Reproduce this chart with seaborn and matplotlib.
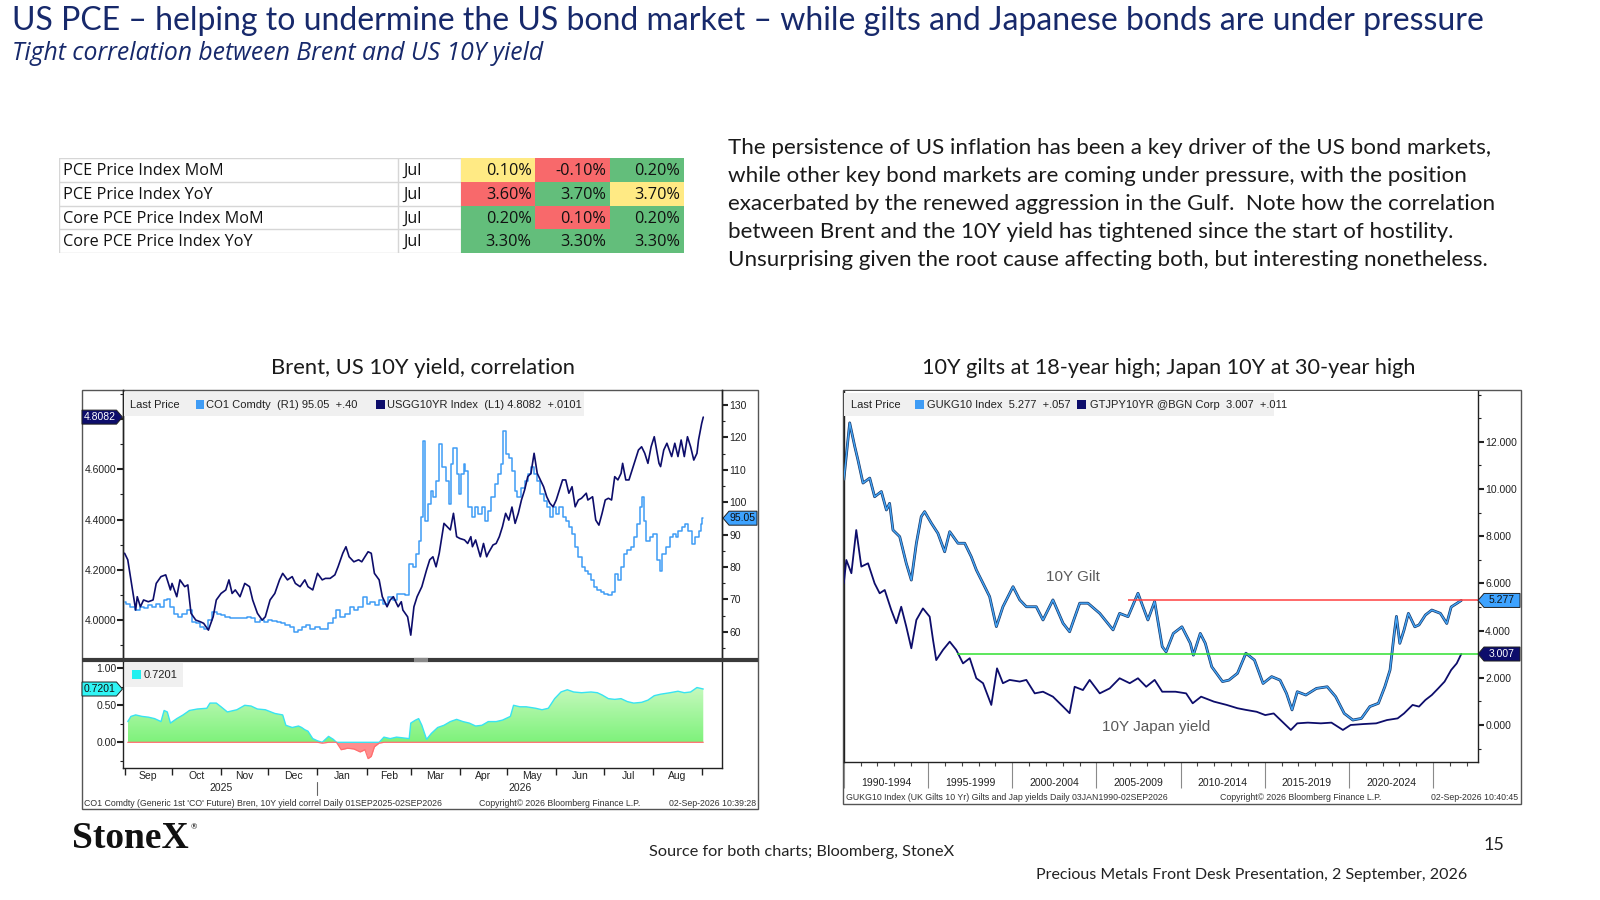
import numpy as np
import matplotlib
matplotlib.use("Agg")
import matplotlib.pyplot as plt
import seaborn as sns
from matplotlib.colors import ListedColormap, LinearSegmentedColormap
from matplotlib.patches import Rectangle, Polygon
from matplotlib.lines import Line2D
import matplotlib.ticker as mticker

# ---------------------------------------------------------------- data
table_rows = ["PCE Price Index MoM", "PCE Price Index YoY",
              "Core PCE Price Index MoM", "Core PCE Price Index YoY"]
table_period = ["Jul", "Jul", "Jul", "Jul"]
table_values = [["0.10%", "-0.10%", "0.20%"],
                ["3.60%", "3.70%", "3.70%"],
                ["0.20%", "0.10%", "0.20%"],
                ["3.30%", "3.30%", "3.30%"]]
table_colour_codes = [[0, 1, 2], [1, 2, 0], [2, 1, 2], [2, 2, 2]]  # 0 yellow, 1 red, 2 green

# days since 01-Sep-2025
us10y_day = [0, 2, 4, 7, 8, 10, 12, 15, 18, 20,
             23, 26, 29, 30, 33, 35, 38, 40, 42, 45,
             48, 50, 53, 56, 58, 61, 64, 66, 68, 70,
             73, 76, 79, 81, 84, 87, 89, 92, 95, 98,
             100, 103, 106, 108, 111, 114, 116, 119, 122, 125,
             127, 130, 133, 135, 138, 140, 142, 145, 148, 150,
             152, 154, 156, 158, 161, 163, 166, 168, 170, 173,
             175, 176, 179, 181, 183, 185, 188, 191, 193, 195,
             197, 199, 201, 202, 204, 206, 208, 210, 212, 215,
             217, 219, 220, 222, 225, 227, 229, 230, 233, 235,
             237, 239, 241, 243, 245, 247, 249, 251, 253, 255,
             257, 259, 261, 263, 265, 267, 269, 271, 273, 275,
             277, 279, 281, 283, 285, 287, 289, 292, 293, 296,
             298, 300, 302, 304, 306, 308, 310, 312, 314, 315,
             317, 319, 321, 323, 325, 327, 329, 331, 333, 335,
             338, 339, 341, 343, 346, 348, 350, 352, 354, 356,
             358, 360, 362, 363, 365, 366]
us10y_yield = [4.266, 4.240, 4.160, 4.040, 4.093, 4.053, 4.080, 4.073, 4.080, 4.146,
               4.173, 4.180, 4.120, 4.146, 4.093, 4.160, 4.133, 4.140, 4.027, 4.000,
               3.993, 3.987, 3.960, 4.013, 4.080, 4.106, 4.120, 4.160, 4.106, 4.120,
               4.093, 4.146, 4.133, 4.080, 4.027, 4.000, 4.013, 4.080, 4.106, 4.160,
               4.186, 4.160, 4.173, 4.146, 4.133, 4.160, 4.133, 4.120, 4.186, 4.160,
               4.166, 4.166, 4.180, 4.212, 4.266, 4.292, 4.252, 4.232, 4.240, 4.232,
               4.252, 4.272, 4.266, 4.186, 4.160, 4.093, 4.053, 4.080, 4.093, 4.053,
               4.073, 4.040, 4.013, 3.940, 4.053, 4.093, 4.133, 4.200, 4.240, 4.252,
               4.212, 4.266, 4.345, 4.385, 4.372, 4.359, 4.425, 4.332, 4.325, 4.319,
               4.305, 4.332, 4.292, 4.319, 4.252, 4.305, 4.252, 4.266, 4.299, 4.305,
               4.332, 4.372, 4.425, 4.398, 4.450, 4.385, 4.425, 4.478, 4.518, 4.571,
               4.584, 4.664, 4.584, 4.558, 4.531, 4.491, 4.465, 4.451, 4.478, 4.518,
               4.558, 4.558, 4.505, 4.531, 4.451, 4.478, 4.485, 4.505, 4.478, 4.491,
               4.398, 4.378, 4.425, 4.478, 4.485, 4.478, 4.571, 4.558, 4.584, 4.624,
               4.558, 4.558, 4.598, 4.637, 4.677, 4.690, 4.664, 4.624, 4.690, 4.730,
               4.624, 4.611, 4.677, 4.704, 4.651, 4.704, 4.651, 4.717, 4.651, 4.730,
               4.690, 4.637, 4.664, 4.717, 4.783, 4.808]

brent_day = [0, 2, 5, 8, 11, 13, 16, 19, 21, 24,
             26, 28, 30, 33, 35, 38, 41, 44, 46, 49,
             52, 54, 57, 60, 62, 65, 68, 71, 73, 76,
             79, 81, 84, 87, 89, 92, 95, 98, 100, 103,
             106, 108, 111, 114, 116, 119, 122, 125, 127, 130,
             133, 135, 138, 141, 144, 146, 149, 152, 154, 157,
             160, 162, 165, 168, 171, 173, 176, 179, 181, 184,
             185, 187, 188, 189, 191, 193, 194, 196, 198, 200,
             202, 204, 206, 207, 209, 211, 212, 214, 215, 216,
             219, 221, 222, 225, 227, 229, 231, 233, 235, 237,
             239, 240, 242, 244, 246, 248, 249, 252, 254, 256,
             258, 260, 262, 264, 266, 268, 270, 272, 274, 276,
             278, 280, 282, 284, 286, 288, 290, 292, 294, 296,
             298, 300, 302, 305, 307, 309, 311, 313, 315, 317,
             319, 321, 323, 325, 327, 328, 329, 331, 333, 335,
             338, 339, 341, 344, 346, 348, 349, 351, 354, 355,
             358, 360, 362, 364, 365, 366]
brent_price = [69.2, 68.7, 67.7, 66.7, 67.7, 67.2, 68.2, 67.7, 68.7, 67.7,
               69.7, 70.2, 67.7, 65.6, 64.6, 65.6, 66.7, 63.1, 62.6, 61.5,
               61.0, 63.6, 66.1, 65.6, 65.1, 64.6, 64.1, 64.4, 64.1, 64.1,
               64.6, 64.4, 63.1, 63.6, 63.1, 63.6, 63.4, 63.1, 62.6, 62.0,
               61.5, 60.0, 60.5, 61.5, 62.0, 61.0, 61.5, 61.0, 61.0, 62.6,
               64.1, 66.7, 64.6, 65.6, 67.7, 66.7, 67.7, 70.7, 68.7, 69.2,
               68.2, 69.7, 68.7, 70.7, 69.7, 71.8, 71.8, 71.3, 81.0, 80.0,
               84.1, 88.1, 95.3, 118.9, 94.3, 99.4, 103.5, 101.5, 106.6, 117.8,
               110.7, 106.6, 99.4, 111.7, 116.8, 108.6, 102.5, 108.6, 111.7, 109.6,
               98.4, 95.3, 98.4, 96.3, 98.4, 94.3, 97.4, 101.5, 105.5, 108.6,
               111.7, 121.9, 114.8, 113.7, 109.6, 103.5, 101.5, 104.5, 106.6, 108.6,
               110.7, 108.6, 106.6, 102.5, 100.4, 98.4, 95.3, 98.4, 96.3, 98.4,
               95.3, 94.3, 92.2, 90.2, 86.1, 83.0, 80.0, 78.9, 77.9, 75.9,
               73.8, 72.8, 72.3, 71.8, 71.3, 72.3, 77.9, 75.9, 80.0, 84.1,
               85.1, 86.1, 89.2, 93.3, 98.4, 101.5, 94.3, 88.1, 89.2, 90.2,
               82.0, 78.9, 84.1, 86.1, 89.2, 90.2, 89.2, 91.2, 92.2, 93.3,
               91.2, 87.1, 89.2, 91.2, 93.3, 95.05]

corr_day = [2, 4, 7, 11, 15, 19, 23, 25, 27, 29,
            33, 37, 41, 46, 52, 54, 58, 61, 65, 71,
            76, 80, 84, 89, 95, 100, 102, 106, 110, 112,
            114, 116, 119, 122, 125, 129, 132, 134, 137, 141,
            145, 149, 152, 154, 156, 158, 161, 164, 168, 172,
            176, 180, 181, 184, 186, 188, 191, 194, 198, 202,
            206, 210, 214, 218, 222, 226, 230, 235, 239, 244,
            246, 250, 254, 260, 264, 268, 272, 276, 280, 284,
            289, 295, 299, 302, 306, 310, 314, 318, 322, 327,
            331, 335, 339, 345, 350, 354, 358, 362, 366]
corr_value = [0.28, 0.35, 0.37, 0.35, 0.34, 0.32, 0.28, 0.43, 0.41, 0.26,
              0.32, 0.37, 0.43, 0.45, 0.46, 0.53, 0.53, 0.48, 0.41, 0.44,
              0.50, 0.49, 0.45, 0.44, 0.39, 0.37, 0.23, 0.20, 0.22, 0.20,
              0.17, 0.15, 0.05, 0.02, -0.01, 0.08, 0.04, 0.00, -0.10, -0.08,
              -0.09, -0.13, -0.10, -0.22, -0.19, -0.06, -0.01, 0.07, 0.05, 0.07,
              0.06, 0.05, 0.26, 0.30, 0.32, 0.23, 0.04, 0.12, 0.20, 0.23,
              0.28, 0.31, 0.28, 0.26, 0.22, 0.23, 0.28, 0.28, 0.30, 0.35,
              0.50, 0.48, 0.48, 0.46, 0.44, 0.46, 0.59, 0.68, 0.71, 0.68,
              0.67, 0.68, 0.67, 0.64, 0.59, 0.58, 0.59, 0.55, 0.53, 0.54,
              0.57, 0.63, 0.65, 0.67, 0.69, 0.67, 0.68, 0.74, 0.7201]

month_labels = ["Sep", "Oct", "Nov", "Dec", "Jan", "Feb", "Mar", "Apr",
                "May", "Jun", "Jul", "Aug"]
month_starts = [0, 30, 61, 91, 122, 153, 181, 212, 242, 273, 303, 334, 365]
year_labels = ["2025", "2026"]

gilt_year = [1990.00, 1990.35, 1990.65, 1990.84, 1991.14, 1991.54, 1991.83, 1992.23, 1992.53, 1992.72,
             1992.92, 1993.32, 1993.71, 1994.01, 1994.31, 1994.60, 1994.80, 1995.20, 1995.59, 1995.99,
             1996.29, 1996.78, 1997.18, 1997.57, 1997.87, 1998.27, 1998.66, 1999.06, 1999.45, 2000.05,
             2000.45, 2000.84, 2001.43, 2001.83, 2002.42, 2003.02, 2003.41, 2004.01, 2004.50, 2005.20,
             2005.99, 2006.38, 2006.88, 2007.47, 2008.06, 2008.46, 2008.91, 2009.14, 2009.57, 2010.08,
             2010.58, 2010.76, 2011.17, 2011.47, 2011.85, 2012.49, 2012.87, 2013.38, 2013.88, 2014.39,
             2014.90, 2015.41, 2015.91, 2016.29, 2016.62, 2016.93, 2017.44, 2018.07, 2018.71, 2019.21,
             2019.72, 2020.23, 2020.74, 2021.24, 2021.75, 2022.13, 2022.44, 2022.69, 2022.82, 2023.02,
             2023.27, 2023.53, 2023.91, 2024.16, 2024.54, 2024.92, 2025.43, 2025.81, 2026.07, 2026.40,
             2026.67]
gilt_yield = [10.38, 12.80, 11.80, 11.23, 10.25, 10.46, 9.67, 9.89, 9.11, 9.39,
              8.26, 7.98, 6.85, 6.14, 7.70, 8.83, 9.04, 8.55, 8.12, 7.34,
              8.19, 7.70, 7.70, 7.13, 6.57, 6.00, 5.44, 4.17, 5.01, 5.86,
              5.30, 5.01, 5.01, 4.45, 5.30, 4.31, 3.95, 5.16, 5.16, 4.73,
              4.03, 4.73, 4.59, 5.58, 4.45, 5.23, 3.32, 3.10, 3.88, 4.16,
              3.46, 2.96, 3.88, 3.46, 2.47, 1.84, 1.90, 2.19, 3.04, 2.75,
              1.76, 2.05, 1.90, 1.34, 0.64, 1.41, 1.27, 1.55, 1.62, 1.20,
              0.49, 0.21, 0.28, 0.78, 0.92, 1.62, 2.33, 3.88, 4.60, 3.46,
              4.02, 4.73, 4.16, 4.24, 4.66, 4.87, 4.73, 4.30, 5.00, 5.15,
              5.277]

jgb_year = [1990.00, 1990.15, 1990.45, 1990.74, 1991.04, 1991.44, 1991.83, 1992.13, 1992.43, 1992.82,
            1993.12, 1993.41, 1993.71, 1994.01, 1994.31, 1994.70, 1995.10, 1995.30, 1995.49, 1995.89,
            1996.29, 1996.68, 1997.08, 1997.48, 1997.87, 1998.27, 1998.76, 1999.10, 1999.45, 1999.85,
            2000.45, 2000.84, 2001.34, 2001.83, 2002.42, 2003.02, 2003.41, 2003.71, 2004.20, 2004.60,
            2005.20, 2005.79, 2006.38, 2006.98, 2007.47, 2007.96, 2008.46, 2008.91, 2009.70, 2010.33,
            2010.72, 2011.22, 2011.98, 2012.74, 2013.38, 2013.88, 2014.52, 2015.03, 2015.53, 2016.04,
            2016.55, 2016.93, 2017.56, 2018.33, 2018.96, 2019.64, 2020.10, 2020.86, 2021.62, 2022.26,
            2022.89, 2023.27, 2023.78, 2024.16, 2024.54, 2024.92, 2025.30, 2025.68, 2026.07, 2026.40,
            2026.67]
jgb_yield = [6.00, 6.99, 6.43, 8.26, 6.71, 6.85, 6.00, 5.58, 5.72, 4.87,
             4.31, 5.01, 4.17, 3.25, 4.45, 4.94, 4.59, 3.60, 2.75, 3.18,
             3.53, 3.18, 2.61, 2.83, 1.98, 1.77, 0.85, 2.40, 1.77, 1.91,
             1.84, 1.91, 1.34, 1.41, 1.20, 0.78, 0.50, 1.62, 1.48, 1.91,
             1.34, 1.55, 1.98, 1.77, 1.98, 1.62, 1.91, 1.41, 1.41, 1.34,
             0.92, 1.20, 0.99, 0.85, 0.71, 0.64, 0.56, 0.42, 0.49, 0.14,
             -0.21, 0.07, 0.10, 0.07, 0.10, -0.21, 0.00, 0.04, 0.07, 0.21,
             0.28, 0.49, 0.85, 0.78, 1.06, 1.27, 1.55, 1.84, 2.33, 2.61,
             3.007]

period_labels = ["1990-1994", "1995-1999", "2000-2004", "2005-2009",
                 "2010-2014", "2015-2019", "2020-2024"]
period_starts = [1990, 1995, 2000, 2005, 2010, 2015, 2020, 2025]
gilt_high_level = 5.28
gilt_high_from = 2006.9
jgb_level = 3.0
jgb_level_from = 1996.7

# ---------------------------------------------------------------- style
sns.set_theme(style="white")
plt.rcParams["font.family"] = ["Lato", "DejaVu Sans"]
BB = ["Liberation Sans", "DejaVu Sans"]

W, H = 1600, 900
NAVY = "#0d0d6b"
LBLUE = "#3f9cf5"
TITLE_C = "#17296b"

fig = plt.figure(figsize=(16, 9), dpi=100)
fig.patch.set_facecolor("white")


def fx(px):
    return px / W


def fy(py):
    return 1 - py / H


def box(l, t, r, b):
    return [l / W, 1 - b / H, (r - l) / W, (b - t) / H]


def ftext(x, y, s, **kw):
    return fig.text(fx(x), fy(y), s, **kw)


def frect(l, t, r, b, **kw):
    fig.add_artist(Rectangle((fx(l), fy(b)), (r - l) / W, (b - t) / H,
                             transform=fig.transFigure, **kw))


def fline(x0, y0, x1, y1, **kw):
    fig.add_artist(Line2D([fx(x0), fx(x1)], [fy(y0), fy(y1)],
                          transform=fig.transFigure, **kw))


def ypx(ax, val):
    return H - ax.transData.transform((0, val))[1]


def tag(x0, x1, yc, text, fc, tc, point):
    h = 14
    if point == "right":
        pts = [(x0, yc - h / 2), (x1 - 6, yc - h / 2), (x1, yc),
               (x1 - 6, yc + h / 2), (x0, yc + h / 2)]
        tx = (x0 + x1 - 6) / 2
    else:
        pts = [(x0, yc), (x0 + 6, yc - h / 2), (x1, yc - h / 2),
               (x1, yc + h / 2), (x0 + 6, yc + h / 2)]
        tx = (x0 + 6 + x1) / 2
    fig.add_artist(Polygon([(fx(a), fy(b)) for a, b in pts], closed=True,
                           transform=fig.transFigure, fc=fc, ec="#202020",
                           lw=0.7, zorder=10))
    ftext(tx, yc, text, ha="center", va="center", fontsize=7.5, color=tc,
          family=BB, zorder=11)


# ---------------------------------------------------------------- slide text
ftext(12, 21, "US PCE \u2013 helping to undermine the US bond market \u2013 while gilts and Japanese bonds are under pressure",
      fontsize=23.0, color=TITLE_C, va="center", ha="left")
ftext(12, 54, "Tight correlation between Brent and US 10Y yield",
      fontsize=17.8, style="italic", color=TITLE_C, va="center", ha="left",
      family=["Open Sans", "DejaVu Sans"])

para = ["The persistence of US inflation has been a key driver of the US bond markets,",
        "while other key bond markets are coming under pressure, with the position",
        "exacerbated by the renewed aggression in the Gulf.  Note how the correlation",
        "between Brent and the 10Y yield has tightened since the start of hostility.",
        "Unsurprising given the root cause affecting both, but interesting nonetheless."]
for i, line in enumerate(para):
    ftext(728, 148 + i * 28, line, fontsize=16.1, color="#1a1a1a",
          va="center", ha="left")

ftext(423, 368, "Brent, US 10Y yield, correlation", fontsize=15.8,
      color="#1a1a1a", ha="center", va="center")
ftext(1169, 368, "10Y gilts at 18-year high; Japan 10Y at 30-year high", fontsize=15.6,
      color="#1a1a1a", ha="center", va="center")

ftext(72, 839, "StoneX", fontsize=27, weight="bold", color="#111111", ha="left",
      va="center", family=["Liberation Serif", "DejaVu Serif"])
ftext(191, 827, "\u00ae", fontsize=5.5, color="#111111", ha="left", va="center")
ftext(649, 852, "Source for both charts; Bloomberg, StoneX", fontsize=11.7,
      color="#222222", ha="left", va="center")
ftext(1494, 845, "15", fontsize=13, color="#222222", ha="center", va="center")
ftext(1467, 875, "Precious Metals Front Desk Presentation, 2 September, 2026", fontsize=11.5,
      color="#222222", ha="right", va="center")

# ---------------------------------------------------------------- table
ax_tl = fig.add_axes(box(59, 158, 461, 253))
ax_tl.set_xlim(0, 402)
ax_tl.set_ylim(len(table_rows), 0)
ax_tl.axis("off")
for i in range(len(table_rows) + 1):
    ax_tl.axhline(i, color="#d6d6d6", lw=1)
for xv in (0, 339, 402):
    ax_tl.axvline(xv, color="#d6d6d6", lw=1)
for i, (lab, per) in enumerate(zip(table_rows, table_period)):
    ax_tl.text(4, i + 0.55, lab, fontsize=11.7, va="center", ha="left", color="#111111",
               family=["Open Sans", "DejaVu Sans"])
    ax_tl.text(344, i + 0.55, per, fontsize=11.7, va="center", ha="left", color="#111111",
               family=["Open Sans", "DejaVu Sans"])

ax_tv = fig.add_axes(box(461, 158, 684, 253))
sns.heatmap(np.array(table_colour_codes), ax=ax_tv,
            cmap=ListedColormap(["#ffea84", "#f8696b", "#63be7b"]),
            vmin=-0.5, vmax=2.5, cbar=False, linewidths=0,
            xticklabels=False, yticklabels=False)
for i, row in enumerate(table_values):
    for j, v in enumerate(row):
        ax_tv.text(j + 0.95, i + 0.55, v, fontsize=11.7, ha="right", va="center",
                   color="#111111", family=["Open Sans", "DejaVu Sans"])

# ---------------------------------------------------------------- left chart
frect(82, 390, 758, 809, fill=False, ec="#555555", lw=1, zorder=0)

ax_u = fig.add_axes(box(123.4, 390, 722.4, 659))
ax_b = ax_u.twinx()
sns.lineplot(x=brent_day, y=brent_price, ax=ax_b, color=LBLUE, lw=1.1,
             drawstyle="steps-mid", estimator=None, sort=False)
sns.lineplot(x=us10y_day, y=us10y_yield, ax=ax_u, color=NAVY, lw=1.2,
             estimator=None, sort=False)
ax_u.set_zorder(ax_b.get_zorder() + 1)
ax_u.patch.set_visible(False)
ax_u.set_xlim(-0.76, 378.1)
ax_b.set_xlim(-0.76, 378.1)
ax_u.set_ylim(3.845, 4.916)
ax_b.set_ylim(51.6, 134.6)
for a in (ax_u, ax_b):
    a.set_xlabel("")
    a.set_ylabel("")
    a.tick_params(axis="x", bottom=False, labelbottom=False, top=False)
    for s in ("top", "bottom"):
        a.spines[s].set_visible(False)
    for s in ("left", "right"):
        a.spines[s].set_color("#222222")
        a.spines[s].set_linewidth(1)
ax_u.yaxis.set_major_locator(mticker.MultipleLocator(0.2))
ax_u.yaxis.set_minor_locator(mticker.MultipleLocator(0.1))
ax_u.yaxis.set_major_formatter(mticker.FormatStrFormatter("%.4f"))
ax_u.tick_params(axis="y", which="major", left=True, direction="out", length=4, width=1.5,
                 color="#222222", labelsize=7.5, pad=1, labelcolor="#222222")
ax_u.tick_params(axis="y", which="minor", left=True, direction="out", length=2, width=0.8,
                 color="#222222")
ax_b.yaxis.set_major_locator(mticker.MultipleLocator(10))
ax_b.yaxis.set_minor_locator(mticker.MultipleLocator(5))
ax_b.yaxis.set_major_formatter(mticker.FormatStrFormatter("%.0f"))
ax_b.tick_params(axis="y", which="major", right=True, direction="out", length=4, width=1.5,
                 color="#222222", labelsize=7.5, pad=1, labelcolor="#222222")
ax_b.tick_params(axis="y", which="minor", right=True, direction="out", length=2, width=0.8,
                 color="#222222")
for lab in ax_u.get_yticklabels() + ax_b.get_yticklabels():
    lab.set_family(BB)

# separator between panels
fline(82, 659.5, 758, 659.5, color="#3a3a3a", lw=3, solid_capstyle="butt")
fline(414, 659.5, 428, 659.5, color="#8a8a8a", lw=3, solid_capstyle="butt")

# legend
frect(124, 392, 584, 416, fc="#f0f0f0", ec="none", zorder=5)
ftext(130, 404.5, "Last Price", fontsize=8, color="#222222", va="center", family=BB, zorder=6)
frect(195.5, 400, 204, 409, fc=LBLUE, ec="none", zorder=6)
ftext(206, 404.5, "CO1 Comdty  (R1) 95.05  +.40", fontsize=8, color="#222222", va="center",
      family=BB, zorder=6)
frect(376, 400, 384.5, 409, fc=NAVY, ec="none", zorder=6)
ftext(387, 404.5, "USGG10YR Index  (L1) 4.8082  +.0101", fontsize=8, color="#222222",
      va="center", family=BB, zorder=6)

# correlation panel
ax_l = fig.add_axes(box(123.4, 662, 722.4, 767.7))
cd = np.array(corr_day, dtype=float)
cv = np.array(corr_value, dtype=float)
pos_poly = ax_l.fill_between(cd, 0, np.clip(cv, 0, None), facecolor="none", edgecolor="none")
grad = np.linspace(0, 1, 256).reshape(-1, 1)
gmap = LinearSegmentedColormap.from_list("g", ["#7ef27b", "#c6f9be"])
im = ax_l.imshow(grad, extent=[cd.min(), cd.max(), 0, cv.max()], origin="lower",
                 aspect="auto", cmap=gmap, zorder=1)
im.set_clip_path(pos_poly.get_paths()[0], transform=ax_l.transData)
ax_l.fill_between(cd, np.clip(cv, None, 0), 0, color="#ff8e8e", lw=0, zorder=1)
sns.lineplot(x=corr_day, y=np.clip(cv, 0, None), ax=ax_l, color="#38e3f2", lw=1.0,
             estimator=None, sort=False, zorder=3)
sns.lineplot(x=corr_day, y=np.clip(cv, None, 0), ax=ax_l, color="#ff6f6f", lw=0.9,
             estimator=None, sort=False, zorder=3)
ax_l.set_xlim(-0.76, 378.1)
ax_l.set_ylim(-0.343, 1.085)
ax_l.set_xlabel("")
ax_l.set_ylabel("")
for s in ("left", "right", "bottom"):
    ax_l.spines[s].set_color("#222222")
    ax_l.spines[s].set_linewidth(1)
ax_l.spines["top"].set_visible(False)
ax_l.set_yticks([0.0, 0.5, 1.0])
ax_l.yaxis.set_minor_locator(mticker.MultipleLocator(0.25))
ax_l.yaxis.set_major_formatter(mticker.FormatStrFormatter("%.2f"))
ax_l.tick_params(axis="y", which="major", left=True, direction="out", length=4, width=1.5,
                 color="#222222", labelsize=7.5, pad=1, labelcolor="#222222")
ax_l.tick_params(axis="y", which="minor", left=True, direction="out", length=2, width=0.8,
                 color="#222222")
ax_l.set_xticks(month_starts)
ax_l.set_xticklabels([])
centers = [(a + b) / 2 for a, b in zip(month_starts[:-1], month_starts[1:])]
ax_l.set_xticks(centers, minor=True)
ax_l.set_xticklabels(month_labels, minor=True)
ax_l.tick_params(axis="x", which="major", bottom=True, direction="out", length=5, width=1,
                 color="#222222")
ax_l.tick_params(axis="x", which="minor", bottom=True, length=0, pad=2.5, labelsize=7.5,
                 labelcolor="#222222")
for lab in ax_l.get_yticklabels() + ax_l.get_xticklabels(minor=True):
    lab.set_family(BB)
xt = ax_l.get_xaxis_transform()
ax_l.text((month_starts[0] + month_starts[4]) / 2, -0.19, year_labels[0], transform=xt,
          ha="center", va="center", fontsize=7.5, color="#222222", family=BB)
ax_l.text((month_starts[4] + 378.1) / 2, -0.19, year_labels[1], transform=xt,
          ha="center", va="center", fontsize=7.5, color="#222222", family=BB)
ax_l.plot([month_starts[4], month_starts[4]], [-0.135, -0.26], transform=xt,
          color="#666666", lw=0.8, clip_on=False)

frect(125, 663, 183, 687, fc="#f0f0f0", ec="none", zorder=5)
frect(132, 670, 141, 679, fc="#22f0f0", ec="none", zorder=6)
ftext(144, 675, "0.7201", fontsize=8, color="#222222", va="center", family=BB, zorder=6)

ftext(84, 803, "CO1 Comdty (Generic 1st 'CO' Future) Bren, 10Y yield correl Daily 01SEP2025-02SEP2026",
      fontsize=6.3, color="#333333", va="center", ha="left", family=BB)
ftext(479, 803, "Copyright\u00a9 2026 Bloomberg Finance L.P.", fontsize=6.3, color="#333333",
      va="center", ha="left", family=BB)
ftext(756, 803, "02-Sep-2026 10:39:28", fontsize=6.3, color="#333333", va="center",
      ha="right", family=BB)

tag(82, 122.5, ypx(ax_u, us10y_yield[-1]), "4.8082", NAVY, "white", "right")
tag(723, 757, ypx(ax_b, brent_price[-1]), "95.05", "#3ea3ff", "#111111", "left")
tag(82, 122.5, ypx(ax_l, corr_value[-1]), "0.7201", "#30f5f5", "#111111", "right")

# ---------------------------------------------------------------- right chart
frect(842.5, 390, 1521, 803.7, fill=False, ec="#555555", lw=1, zorder=0)
ax_r = fig.add_axes(box(843.8, 391, 1477.6, 761.7))
sns.lineplot(x=gilt_year, y=gilt_yield, ax=ax_r, color="#16386b", lw=2.0,
             estimator=None, sort=False, zorder=2)
sns.lineplot(x=gilt_year, y=gilt_yield, ax=ax_r, color="#45a6f7", lw=1.0,
             estimator=None, sort=False, zorder=3)
sns.lineplot(x=jgb_year, y=jgb_yield, ax=ax_r, color=NAVY, lw=1.3,
             estimator=None, sort=False, zorder=3)
ax_r.set_xlim(1990.0, 2027.64)
ax_r.set_ylim(-1.555, 14.15)
ax_r.hlines(gilt_high_level, gilt_high_from, 2027.64, color="#ff4040", lw=1.1, zorder=4)
ax_r.hlines(jgb_level, jgb_level_from, 2027.64, color="#30e030", lw=1.1, zorder=4)
ax_r.set_xlabel("")
ax_r.set_ylabel("")
for s in ("left", "right", "bottom", "top"):
    ax_r.spines[s].set_color("#222222")
    ax_r.spines[s].set_linewidth(1)
ax_r.spines["top"].set_visible(False)
ax_r.yaxis.tick_right()
ax_r.yaxis.set_major_locator(mticker.FixedLocator([0, 2, 4, 6, 8, 10, 12]))
ax_r.yaxis.set_minor_locator(mticker.FixedLocator(list(range(-1, 15))))
ax_r.yaxis.set_major_formatter(mticker.FormatStrFormatter("%.3f"))
ax_r.tick_params(axis="y", which="major", right=True, left=False, direction="out", length=4,
                 width=1.5, color="#222222", labelsize=7.5, pad=1.5, labelcolor="#222222")
ax_r.tick_params(axis="y", which="minor", right=True, left=False, direction="out", length=2,
                 width=0.8, color="#222222")
ax_r.set_xticks(period_starts)
ax_r.set_xticklabels([])
ax_r.set_xticks(np.arange(1991, 2028), minor=True)
ax_r.tick_params(axis="x", which="major", bottom=True, direction="out", length=19, width=0.8,
                 color="#8a8a8a")
ax_r.tick_params(axis="x", which="minor", bottom=True, direction="out", length=3, width=0.8,
                 color="#444444")
for lab in ax_r.get_yticklabels():
    lab.set_family(BB)
xr = ax_r.get_xaxis_transform()
for lab, a, b in zip(period_labels, period_starts[:-1], period_starts[1:]):
    ax_r.text((a + b) / 2, -0.058, lab, transform=xr, ha="center", va="center",
              fontsize=7.5, color="#222222", family=BB)
ax_r.text(2003.6, 6.28, "10Y Gilt", fontsize=11, color="#5a5a5a", ha="center", va="center",
          family=BB)
ax_r.text(2008.54, -0.07, "10Y Japan yield", fontsize=11, color="#5a5a5a", ha="center",
          va="center", family=BB)

frect(844, 393, 1274, 416, fc="#f0f0f0", ec="none", zorder=5)
ftext(851, 404.5, "Last Price", fontsize=8, color="#222222", va="center", family=BB, zorder=6)
frect(915, 400, 924, 409, fc=LBLUE, ec="none", zorder=6)
ftext(927, 404.5, "GUKG10 Index  5.277  +.057", fontsize=8, color="#222222", va="center",
      family=BB, zorder=6)
frect(1077, 400, 1086, 409, fc=NAVY, ec="none", zorder=6)
ftext(1090, 404.5, "GTJPY10YR @BGN Corp  3.007  +.011", fontsize=8, color="#222222",
      va="center", family=BB, zorder=6)

ftext(845.5, 797, "GUKG10 Index (UK Gilts 10 Yr) Gilts and Jap yields Daily 03JAN1990-02SEP2026",
      fontsize=6.3, color="#333333", va="center", ha="left", family=BB)
ftext(1220, 797, "Copyright\u00a9 2026 Bloomberg Finance L.P.", fontsize=6.3, color="#333333",
      va="center", ha="left", family=BB)
ftext(1518, 797, "02-Sep-2026 10:40:45", fontsize=6.3, color="#333333", va="center",
      ha="right", family=BB)

tag(1478, 1520, ypx(ax_r, gilt_yield[-1]), "5.277", "#3ea3ff", "#111111", "left")
tag(1478, 1520, ypx(ax_r, jgb_yield[-1]), "3.007", NAVY, "white", "left")

fig.savefig("out.png", dpi=100, facecolor="white")
